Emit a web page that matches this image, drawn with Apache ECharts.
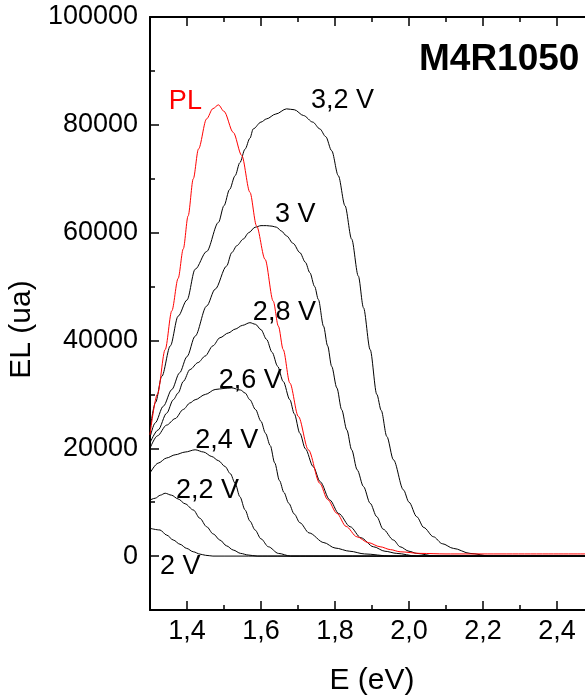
<!DOCTYPE html>
<html>
<head>
<meta charset="utf-8">
<script src="https://cdn.jsdelivr.net/npm/echarts@6/dist/echarts.min.js"></script>
<style>
html,body{margin:0;padding:0;background:#fff;}
#chart{width:585px;height:698px;}
</style>
</head>
<body>
<div id="chart"></div>
<script>
// ---- data ----
const PL_E  = [1.30,1.32,1.341,1.359,1.376,1.39,1.403,1.417,1.431,1.453,1.47,1.485,1.50,1.525,1.548,1.57,1.588,1.611,1.633,1.647,1.66,1.678,1.701,1.728,1.759,1.78,1.805,1.83,1.859,1.89,1.922,1.95,1.976,2.03,2.1,2.5];
const PL_EL = [22500,30000,38300,45500,51500,57000,63100,70000,75500,81100,83000,83700,82500,78600,74300,67500,61250,55060,47300,42650,38300,32100,25900,19720,13500,10500,7940,5500,3590,2500,1730,1200,800,500,400,400];

const V20_E  = [1.30,1.327,1.345,1.363,1.381,1.399,1.417,1.435,1.45,1.47,2.5];
const V20_EL = [5150,4840,3900,2980,2200,1430,800,370,150,0,0];

const V22_E  = [1.30,1.314,1.328,1.341,1.358,1.376,1.395,1.417,1.435,1.453,1.471,1.489,1.507,1.525,1.545,1.565,1.59,2.5];
const V22_EL = [10400,10730,11300,11660,11300,10600,9700,8560,7000,5450,4100,2980,1900,1120,500,200,0,0];

const V24_E  = [1.30,1.322,1.345,1.368,1.395,1.422,1.445,1.467,1.485,1.503,1.517,1.53,1.543,1.557,1.57,1.584,1.60,1.62,1.647,1.68,2.5];
const V24_EL = [15400,17240,18200,18790,19300,19720,19300,18470,17700,16610,15300,13520,11000,8560,6500,4840,3200,1730,500,0,0];

const V26_E  = [1.30,1.32,1.345,1.368,1.39,1.408,1.422,1.45,1.476,1.50,1.521,1.545,1.557,1.57,1.585,1.60,1.612,1.625,1.637,1.65,1.662,1.675,1.69,1.705,1.73,1.77,1.80,1.84,1.88,1.95,2.5];
const V26_EL = [20000,22300,24300,25500,27200,28400,29000,30000,30900,31100,31200,30800,30250,29000,27200,25000,22800,20500,17300,14000,11800,9800,7800,6200,4300,2500,1500,900,400,0,0];

const V28_E  = [1.30,1.322,1.345,1.363,1.376,1.39,1.408,1.43,1.449,1.47,1.489,1.512,1.53,1.55,1.57,1.585,1.60,1.615,1.63,1.645,1.66,1.678,1.69,1.705,1.72,1.741,1.76,1.786,1.81,1.841,1.87,1.904,1.935,1.967,2.02,2.5];
const V28_EL = [21000,23400,26500,29000,30250,32400,34600,35900,37100,39000,40500,41400,42100,42800,43300,43000,42000,40200,37800,35200,32400,29000,26400,22800,19900,16600,13800,10400,7900,5450,3400,1730,900,500,0,0];

const V30_E  = [1.30,1.314,1.336,1.359,1.38,1.40,1.422,1.453,1.476,1.507,1.521,1.535,1.552,1.567,1.584,1.60,1.615,1.63,1.642,1.655,1.669,1.687,1.705,1.72,1.732,1.745,1.755,1.769,1.78,1.791,1.805,1.818,1.832,1.845,1.86,1.877,1.895,1.913,1.93,1.958,1.976,2.0,2.021,2.07,2.5];
const V30_EL = [22000,24700,27800,30900,34000,37000,40800,46370,49500,53800,56300,57600,58800,60000,61000,61300,61300,61200,61000,60300,59400,58000,56300,54500,52580,50000,47600,42650,39000,35200,31200,27160,23400,19720,16000,12900,9800,7300,5000,2980,1730,900,500,0,0];

const V32_E  = [1.30,1.315,1.332,1.355,1.376,1.40,1.422,1.453,1.485,1.50,1.515,1.53,1.543,1.557,1.57,1.579,1.60,1.615,1.64,1.669,1.69,1.715,1.74,1.759,1.775,1.791,1.809,1.827,1.845,1.863,1.877,1.895,1.913,1.925,1.94,1.958,1.985,2.0,2.021,2.04,2.066,2.09,2.12,2.165,2.22,2.5];
const V32_EL = [23500,28500,33350,39000,44500,47500,53200,56500,61900,65000,68000,70550,73000,75500,77500,79240,80500,81100,82000,82960,82800,81720,80500,79240,77800,75200,70550,65000,58800,51950,46070,38300,30000,27000,22200,17860,12280,10000,7300,5300,3590,2300,1430,500,0,0];

const curveLabels = ['PL','3,2 V','3 V','2,8 V','2,6 V','2,4 V','2,2 V','2 V'];
const labelE  = [1.351,1.735,1.638,1.578,1.486,1.422,1.370,1.327];
const labelEL = [84260,84450,63430,45100,32550,21480,12090,-1950];

const xMajor = [1.4,1.6,1.8,2.0,2.2,2.4];
const xMinor = [1.5,1.7,1.9,2.1,2.3];
const yMajor = [0,20000,40000,60000,80000,100000];
const yMinor = [10000,30000,50000,70000,90000];

const titleText = 'M4R1050';
const xName = 'E (eV)';
const yName = 'EL (ua)';

// ---- build ----
function pairs(xs, ys){ return xs.map((x,i)=>[x, ys[i]]); }
const FONT = '"Liberation Sans", Arial, sans-serif';
const black = '#000';

const blackSeries = [
  [V20_E,V20_EL],[V22_E,V22_EL],[V24_E,V24_EL],[V26_E,V26_EL],
  [V28_E,V28_EL],[V30_E,V30_EL],[V32_E,V32_EL]
].map(d => ({
  type:'line', data: pairs(d[0], d[1]), showSymbol:false, smooth:0.3, smoothMonotone:'x',
  lineStyle:{color:black, width:1}, silent:true, z:3
}));

const plSeries = {
  type:'line', data: pairs(PL_E, PL_EL), showSymbol:false, smooth:0.3, smoothMonotone:'x',
  lineStyle:{color:'#ff0000', width:1}, silent:true, z:4
};

const labelSeries = {
  type:'scatter', symbolSize:0, silent:true, z:10,
  itemStyle:{opacity:1},
  data: curveLabels.map((t,i)=>({
    value:[labelE[i], labelEL[i]], name:t,
    label:{color: i===0 ? '#ff0000' : black}
  })),
  label:{show:true, formatter: p => p.name, position:[0,0], align:'left', verticalAlign:'middle',
         fontSize:27, fontFamily:FONT, textBorderWidth:0, textBorderColor:'transparent', opacity:1}
};

function xAx(pos, ticks, len, withLabel, withLine, name){
  return {
    type:'value', position:pos, min:1.3, max:2.5,
    axisLine:{show:withLine, onZero:false, lineStyle:{color:black, width:2}},
    axisTick:{show:true, inside:true, length:len, customValues:ticks, lineStyle:{color:black, width:1.5}},
    axisLabel:{show:withLabel, customValues:ticks, color:black, fontSize:27, fontFamily:FONT, margin:8,
               formatter: v => v.toFixed(1).replace('.', ',')},
    splitLine:{show:false},
    name: name || '', nameLocation:'middle', nameGap:56,
    nameTextStyle:{color:black, fontSize:30, fontFamily:FONT}
  };
}
function yAx(pos, ticks, len, withLabel, withLine, name){
  return {
    type:'value', position:pos, min:-10000, max:100000,
    axisLine:{show:withLine, onZero:false, lineStyle:{color:black, width:2}},
    axisTick:{show:true, inside:true, length:len, customValues:ticks, lineStyle:{color:black, width:1.5}},
    axisLabel:{show:withLabel, customValues:ticks, color:black, fontSize:27, fontFamily:FONT, margin:12,
               formatter: v => String(Math.round(v))},
    splitLine:{show:false},
    name: name || '', nameLocation:'middle', nameGap:99,
    nameTextStyle:{color:black, fontSize:30, fontFamily:FONT, padding:[0,32,0,0]}
  };
}

const option = {
  animation:false,
  backgroundColor:'#fff',
  title:{text:titleText, left:414, top:36, textStyle:{fontSize:37, fontWeight:'bold', color:black, fontFamily:FONT}},
  grid:{left:150, top:17, width:444, height:593, containLabel:false, outerBoundsMode:'none'},
  xAxis:[
    xAx('bottom', xMajor, 9, true, true, xName),
    xAx('bottom', xMinor, 5, false, false),
    xAx('top', xMajor, 9, false, true),
    xAx('top', xMinor, 5, false, false)
  ],
  yAxis:[
    yAx('left', yMajor, 9, true, true, yName),
    yAx('left', yMinor, 5, false, false),
    yAx('right', yMajor, 9, false, true),
    yAx('right', yMinor, 5, false, false)
  ],
  series:[...blackSeries, plSeries, labelSeries]
};

const chart = echarts.init(document.getElementById('chart'), null, {renderer:'canvas'});
chart.setOption(option);
</script>
</body>
</html>
